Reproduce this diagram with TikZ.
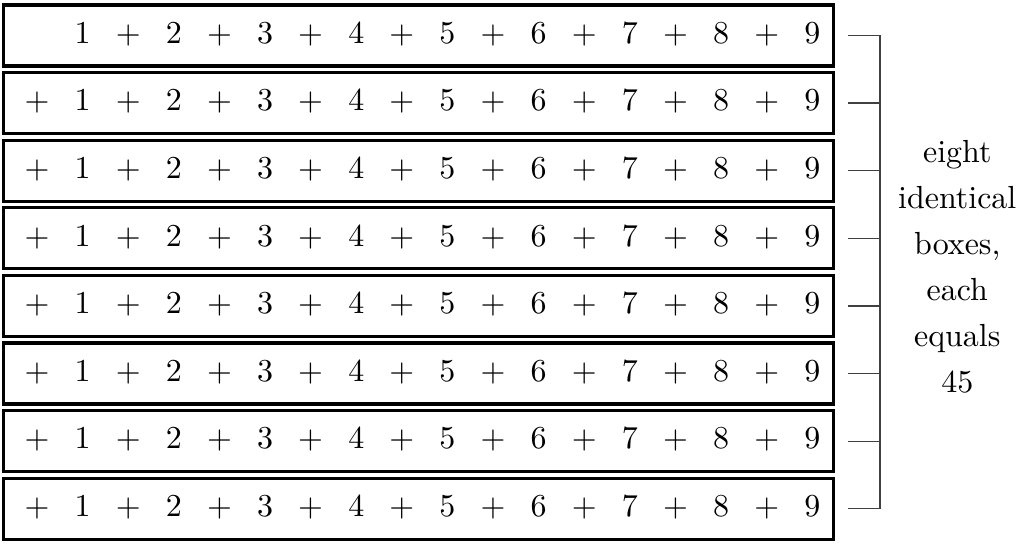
\documentclass[tikz,border=0pt]{standalone}
\usepackage{amsmath,amssymb}
\usepackage{tikz}
\usetikzlibrary{positioning, calc}

\begin{document}
\begin{tikzpicture}[
    every node/.style={font=\normalsize},
    sumbox/.style={rectangle, draw, line width=1pt, minimum width=9.13cm, minimum height=0.67cm, inner sep=0pt},
    term/.style={inner sep=0pt, anchor=base},
    brace/.style={draw=black!75, thin},
    note/.style={align=center, font=\fontsize{10}{14.4}\selectfont}
]
\useasboundingbox (0,0) rectangle (11.22,-5.984);

\foreach \i in {1,...,8} {
  \node[sumbox] (box\i) at (4.6035, {-0.011*(35.5+67.6*(\i-1))}) {};
}

% the digits and the plus signs
\foreach \i in {1,...,8} {
  \foreach \k in {1,...,9} {
    \node[term] (n\i-\k) at ({0.011*(37+45.6*(2*\k-1))}, {-0.011*(35.5+67.6*(\i-1))-0.085}) {$\k$};
  }
  \foreach \k in {1,...,8} {
    \node[term] (p\i-\k) at ({0.011*(37+45.6*(2*\k))}, {-0.011*(35.5+67.6*(\i-1))-0.085}) {$+$};
  }
}
\foreach \i in {2,...,8} {
  \node[term] (p\i-0) at (0.407, {-0.011*(35.5+67.6*(\i-1))-0.085}) {$+$};
}

\coordinate (brk) at (9.68,0);
\foreach \i in {1,...,8} {
  \draw[brace] ([xshift=0.14cm]box\i.east) -- (box\i.east -| brk);
}
\draw[brace] (box1.east -| brk) -- (box8.east -| brk);

\node[note] (label) at (10.53,-2.93) {eight\\identical\\boxes,\\each\\equals\\45};

\end{tikzpicture}
\end{document}
